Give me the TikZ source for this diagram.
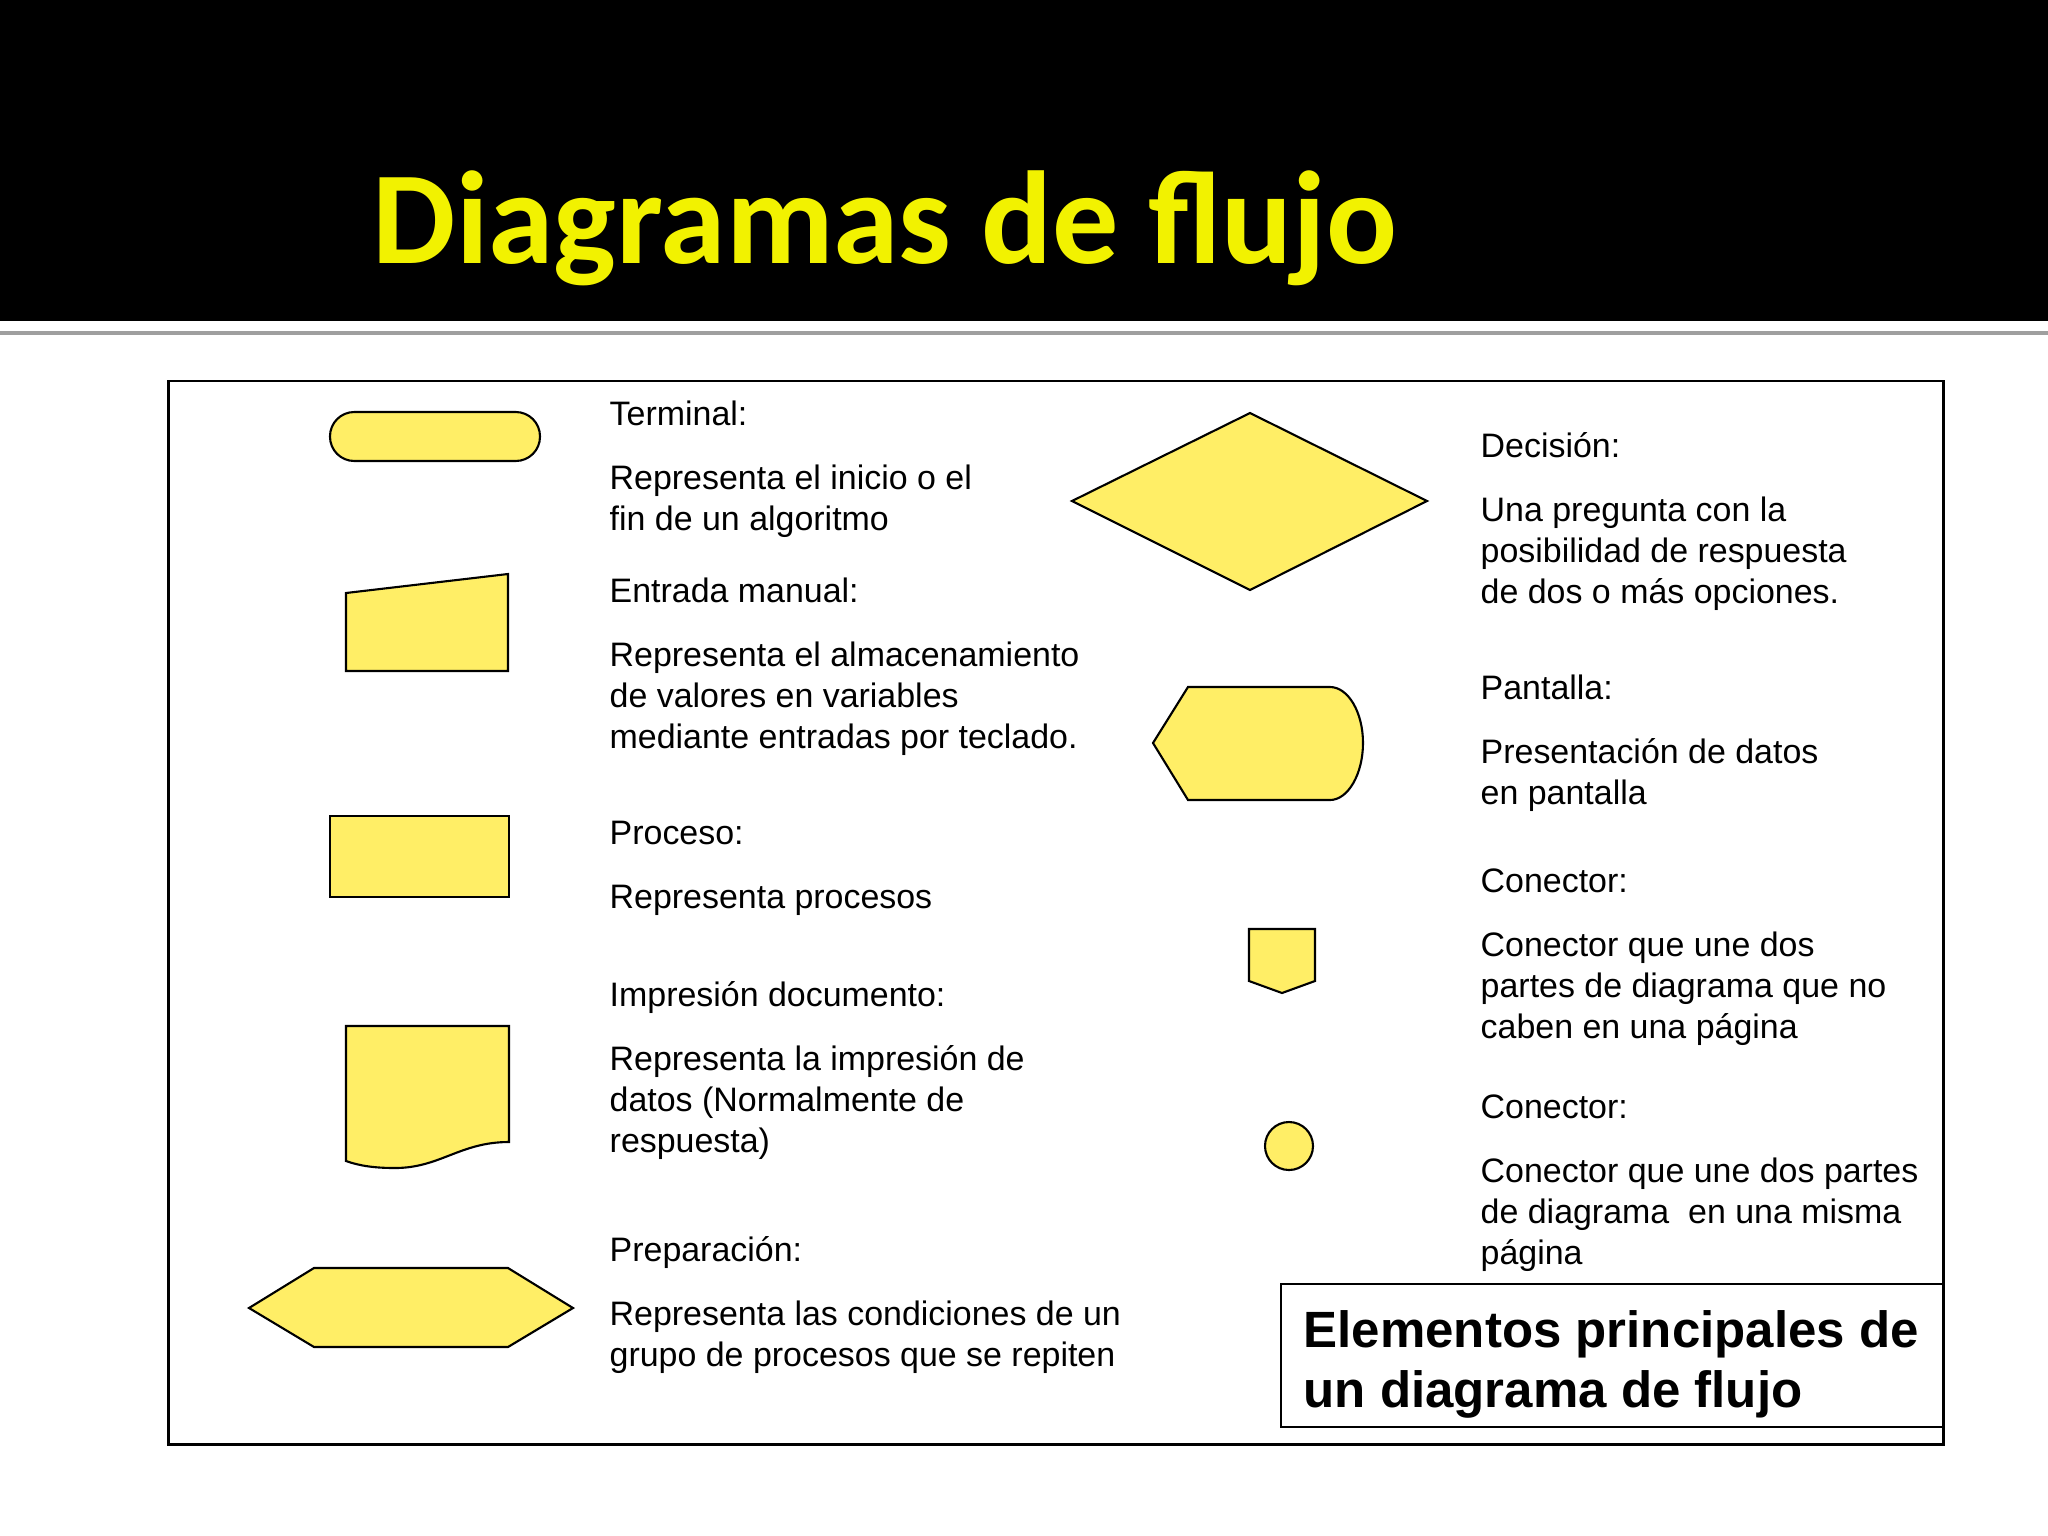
\documentclass[tikz,border=0pt]{standalone}
\usepackage{fontspec}
\setmainfont{Liberation Sans}
\newfontfamily\titlefont{Carlito}
\usepackage{tikz}
\definecolor{shapeyellow}{RGB}{255,238,102}
\definecolor{titleyellow}{RGB}{242,242,0}

\begin{document}
\begin{tikzpicture}[x=0.01cm, y=-0.01cm,
			forma/.style={draw, fill=shapeyellow, line width=0.6pt},
			texto/.style={anchor=north west, inner sep=0pt, align=left, font=\fontsize{9.65}{11.7}\selectfont}
		]
		\useasboundingbox (0,0) rectangle (2048,1536);
		\fill[white] (0,0) rectangle (2048,1536);

		% banda superior
		\fill[black] (0,0) rectangle (2048,321);
		\draw[gray!75, line width=1.2pt] (0,333) -- (2048,333);
		\node[anchor=base west, inner sep=0pt, text=titleyellow, font=\titlefont\bfseries\fontsize{37.6}{40}\selectfont] (titulo) at (372,263) {Diagramas de flujo};

		\draw[line width=0.7pt] (168.5,381) rectangle (1943.5,1444.5);

		% simbolos
		\draw[forma, rounded corners=6.9pt] (330,412) rectangle (540,461);
		\draw[forma] (346,593) -- (508,574) -- (508,671) -- (346,671) -- cycle;
		\draw[forma] (330,816) rectangle (509,897);
		\draw[forma] (346,1026) -- (509,1026) -- (509,1142) .. controls (460,1142) and (440,1168) .. (395,1168) .. controls (375,1168) and (360,1166) .. (346,1161) -- cycle;
		\draw[forma] (249,1308) -- (314,1268) -- (508,1268) -- (573,1308) -- (508,1347) -- (314,1347) -- cycle;

		\draw[forma] (1072,501) -- (1250,413) -- (1427,501) -- (1250,590) -- cycle;
		\draw[forma] (1153,743) -- (1188,687) -- (1330,687) .. controls (1348,687) and (1363,712) .. (1363,743) .. controls (1363,774) and (1348,800) .. (1330,800) -- (1188,800) -- cycle;
		\draw[forma] (1249,929) -- (1315,929) -- (1315,981) -- (1282,993) -- (1249,981) -- cycle;
		\draw[forma] (1289,1146) circle (24);

		% textos columna izquierda
		\node[texto] (terminal) at (609,396) {\strut Terminal:\\[6.5pt] Representa el inicio o el\\ fin de un algoritmo};
		\node[texto] (entrada) at (609,573) {\strut Entrada manual:\\[6.5pt] Representa el almacenamiento\\ de valores en variables\\ mediante entradas por teclado.};
		\node[texto] (proceso) at (609,815) {\strut Proceso:\\[6.5pt] Representa procesos};
		\node[texto] (impresion) at (609,977) {\strut Impresión documento:\\[6.5pt] Representa la impresión de\\ datos (Normalmente de\\ respuesta)};
		\node[texto] (preparacion) at (609,1232) {\strut Preparación:\\[6.5pt] Representa las condiciones de un\\ grupo de procesos que se repiten};

		% textos columna derecha
		\node[texto] (decision) at (1480,428) {\strut Decisión:\\[6.5pt] Una pregunta con la\\ posibilidad de respuesta\\ de dos o más opciones.};
		\node[texto] (pantalla) at (1480,670) {\strut Pantalla:\\[6.5pt] Presentación de datos\\ en pantalla};
		\node[texto] (conector1) at (1480,863) {\strut Conector:\\[6.5pt] Conector que une dos\\ partes de diagrama que no\\ caben en una página};
		\node[texto] (conector2) at (1480,1089) {\strut Conector:\\[6.5pt] Conector que une dos partes\\ de diagrama\ \ en una misma\\ página};

		\draw[fill=white, line width=0.7pt] (1281,1284) rectangle (1943.5,1427);
		\node[texto, font=\fontsize{14.5}{17.1}\selectfont\bfseries] (elementos) at (1303,1305) {\strut Elementos principales de\\ un diagrama de flujo};
	\end{tikzpicture}
\end{document}
